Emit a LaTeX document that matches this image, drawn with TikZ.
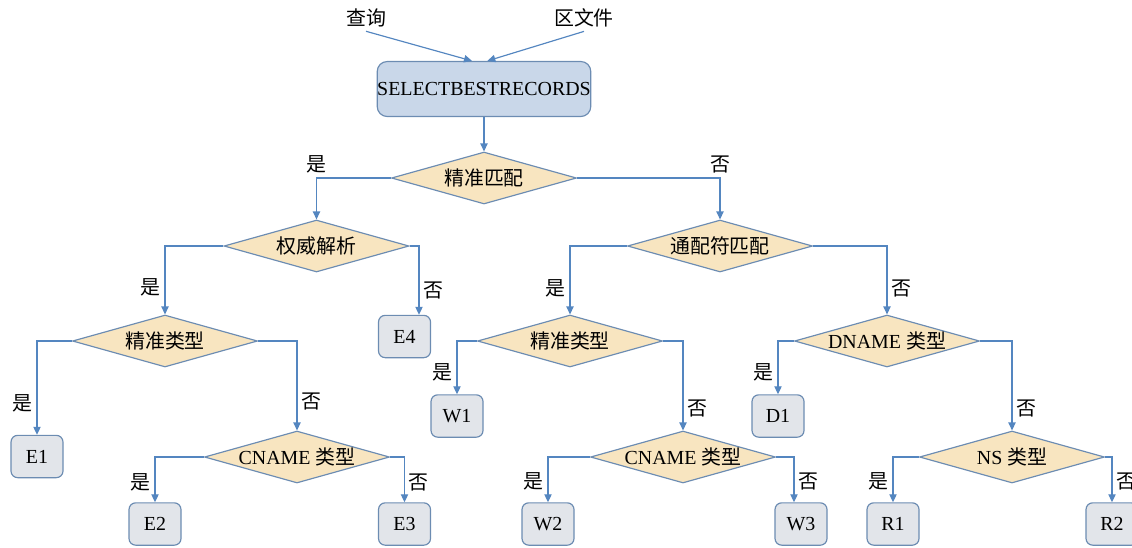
\documentclass[tikz,border=0pt]{standalone}
\usepackage{fontspec}
\setmainfont{Liberation Serif}
\newfontfamily\cjk{Noto Sans CJK SC}
\usetikzlibrary{shapes.geometric, arrows.meta}
\definecolor{linkblue}{RGB}{84,134,192}
\definecolor{edgeblue}{RGB}{108,140,178}
\definecolor{topfill}{RGB}{201,215,233}
\definecolor{decfill}{RGB}{248,229,192}
\definecolor{leaffill}{RGB}{226,229,234}
\tikzstyle{startbox} = [rectangle, rounded corners=0.3cm, minimum width=6.36cm, minimum height=1.65cm, inner sep=0pt, text centered, line width=1pt, draw=edgeblue, fill=topfill]
\tikzstyle{decision} = [diamond, aspect=3.5, minimum width=5.55cm, minimum height=1.56cm, inner sep=0pt, text centered, line width=1pt, draw=edgeblue, fill=decfill]
\tikzstyle{leaf} = [rectangle, rounded corners=0.2cm, minimum width=1.56cm, minimum height=1.27cm, text centered, line width=1pt, draw=edgeblue, fill=leaffill]
\tikzstyle{arrow} = [line width=1pt, draw=linkblue, -{Triangle[length=0.24cm,width=0.22cm]}]

\begin{document}
\begin{tikzpicture}[x=0.03cm, y=-0.03cm, every node/.style={font=\fontsize{17}{20}\selectfont}]
		\useasboundingbox (0,0) rectangle (1132,547);
		\node (query) at (366,18) {\cjk 查询};
		\node (zone) at (584,18) {\cjk 区文件};
		\node (select) [startbox] at (484,89) {SELECTBESTRECORDS};
		\node (exact) [decision] at (484,178) {\cjk 精准匹配};
		\node (auth) [decision] at (316.5,246) {\cjk 权威解析};
		\node (wild) [decision] at (720,246) {\cjk 通配符匹配};
		\node (etype) [decision] at (165,341) {\cjk 精准类型};
		\node (wtype) [decision] at (570,341) {\cjk 精准类型};
		\node (dname) [decision] at (887,341) {DNAME {\cjk 类型}};
		\node (ecname) [decision] at (297,457) {CNAME {\cjk 类型}};
		\node (wcname) [decision] at (683,457) {CNAME {\cjk 类型}};
		\node (ns) [decision] at (1012,457) {NS {\cjk 类型}};
		\node (e1) [leaf] at (37,456.5) {E1};
		\node (e2) [leaf] at (155,524) {E2};
		\node (e3) [leaf] at (404.5,524) {E3};
		\node (e4) [leaf] at (404.5,336.5) {E4};
		\node (w1) [leaf] at (457,416) {W1};
		\node (w2) [leaf] at (548,524) {W2};
		\node (w3) [leaf] at (801,524) {W3};
		\node (d1) [leaf] at (778,416) {D1};
		\node (r1) [leaf] at (893,524) {R1};
		\node (r2) [leaf] at (1112,524) {R2};
		\draw [arrow] (query.south) -- ([xshift=-0.36cm]select.north);
		\draw [arrow] (zone.south) -- ([xshift=0.1cm]select.north);
		\draw [arrow] (select) -- (exact);
		\draw [arrow] (exact.west) -| node[pos=0.5, above] {\cjk 是} (auth.north);
		\draw [arrow] (exact.east) -| node[pos=0.5, above] {\cjk 否} (wild.north);
		\draw [arrow] (auth.west) -| node[pos=0.8, left] {\cjk 是} (etype.north);
		\draw [arrow] (auth.east) -| node[pos=0.82, right] {\cjk 否} ([xshift=0.435cm]e4.north);
		\draw [arrow] (etype.west) -| node[pos=0.83, left] {\cjk 是} (e1.north);
		\draw [arrow] (etype.east) -| node[pos=0.84, right] {\cjk 否} (ecname.north);
		\draw [arrow] (ecname.west) -| node[pos=0.78, left] {\cjk 是} (e2.north);
		\draw [arrow] (ecname.east) -| node[pos=0.78, right] {\cjk 否} (e3.north);
		\draw [arrow] (wild.west) -| node[pos=0.81, left] {\cjk 是} (wtype.north);
		\draw [arrow] (wild.east) -| node[pos=0.81, right] {\cjk 否} (dname.north);
		\draw [arrow] (wtype.west) -| node[pos=0.79, left] {\cjk 是} (w1.north);
		\draw [arrow] (wtype.east) -| node[pos=0.88, right] {\cjk 否} (wcname.north);
		\draw [arrow] (wcname.west) -| node[pos=0.77, left] {\cjk 是} (w2.north);
		\draw [arrow] (wcname.east) -| node[pos=0.77, right] {\cjk 否} ([xshift=-0.21cm]w3.north);
		\draw [arrow] (dname.west) -| node[pos=0.79, left] {\cjk 是} (d1.north);
		\draw [arrow] (dname.east) -| node[pos=0.88, right] {\cjk 否} (ns.north);
		\draw [arrow] (ns.west) -| node[pos=0.77, left] {\cjk 是} (r1.north);
		\draw [arrow] (ns.east) -| node[pos=0.77, right] {\cjk 否} (r2.north);
		\end{tikzpicture}
\end{document}
